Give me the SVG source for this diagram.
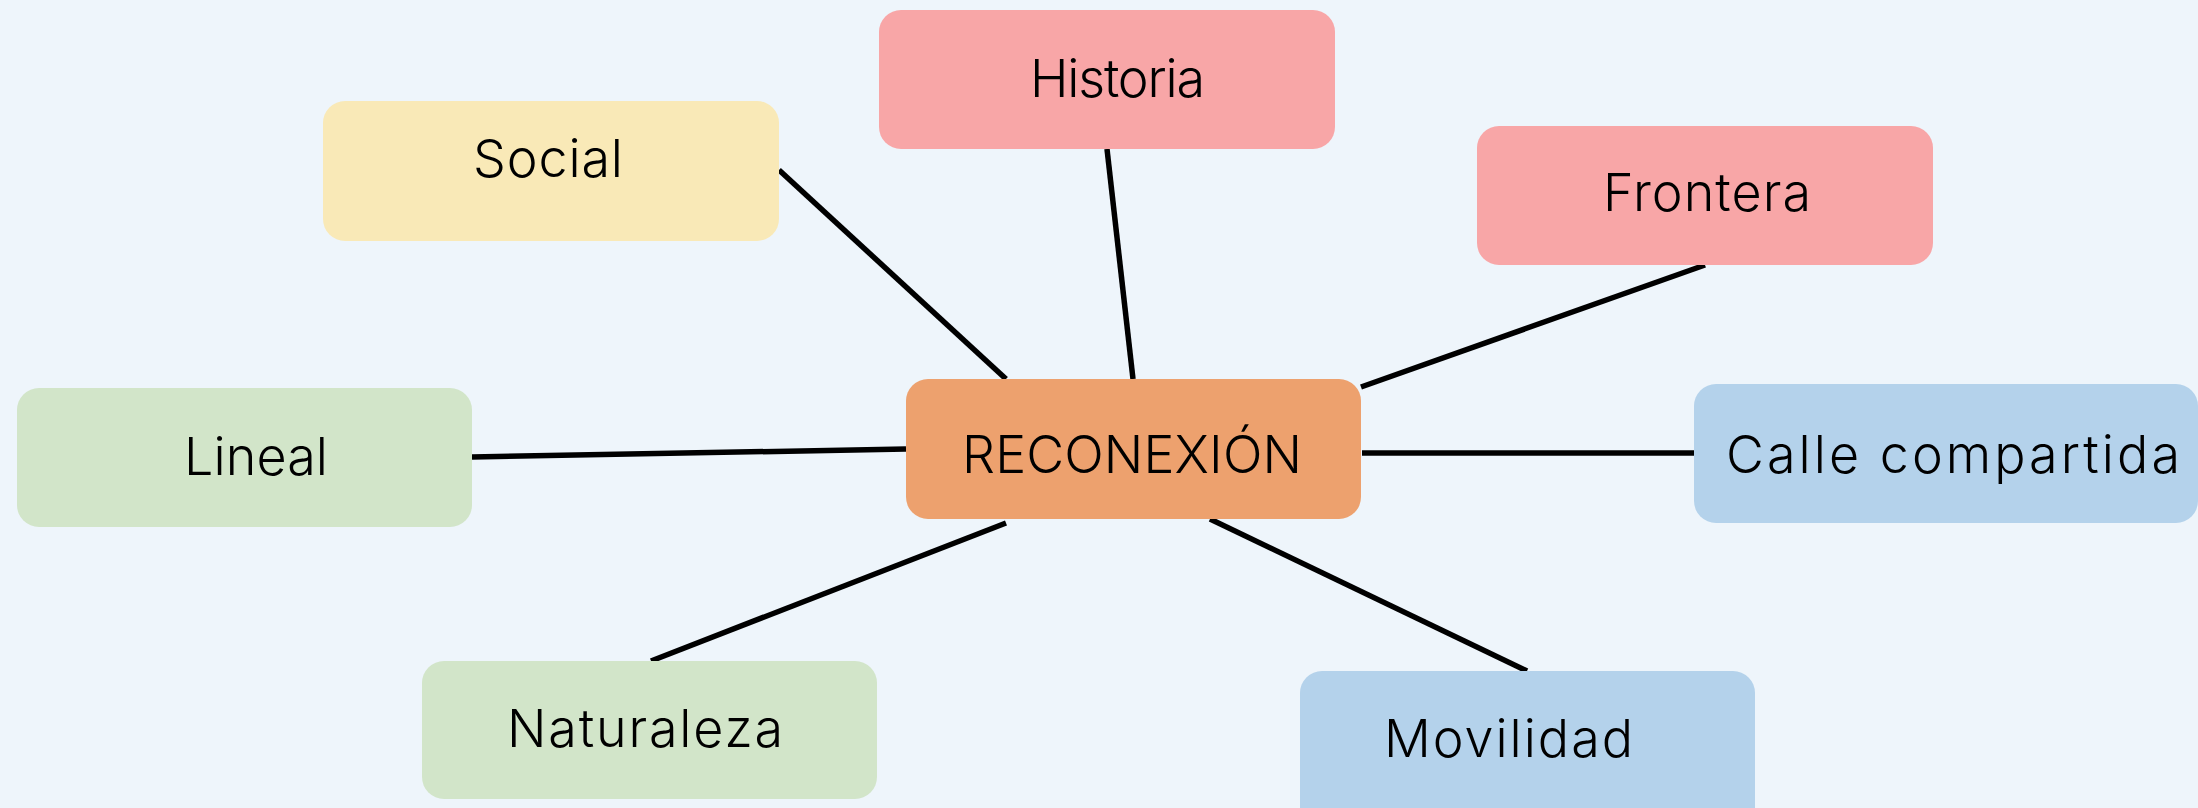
<svg xmlns="http://www.w3.org/2000/svg" width="2198" height="808" viewBox="0 0 2198 808">
<style>
.lbl{font-family:"Inter","Liberation Sans",Arial,sans-serif;font-weight:300;font-size:52px;fill:#000;}
.pink{fill:#F8A6A7;}
.yellow{fill:#F9E9B7;}
.green{fill:#D2E5C9;}
.orange{fill:#EDA16E;}
.blue{fill:#B4D2EB;}
.conn line{stroke:#000;stroke-width:5.5;}
</style>
<rect x="0" y="0" width="2198" height="808" fill="#EEF5FB"/>
<g id="connectors" class="conn">
<line x1="779" y1="170" x2="1006" y2="379"/>
<line x1="1107" y1="149" x2="1133" y2="379"/>
<line x1="1705" y1="265" x2="1361" y2="387"/>
<line x1="472" y1="457" x2="906" y2="449"/>
<line x1="1362" y1="453" x2="1703" y2="453"/>
<line x1="1006" y1="523" x2="651" y2="661"/>
<line x1="1210" y1="519" x2="1527" y2="671"/>
</g>
<g id="node-historia">
<rect class="pink" x="879" y="10" width="456" height="139" rx="22"/>
<text class="lbl" x="1030" y="97" textLength="175" lengthAdjust="spacing">Historia</text>
</g>
<g id="node-social">
<rect class="yellow" x="323" y="101" width="456" height="140" rx="22"/>
<text class="lbl" x="473" y="177" textLength="150" lengthAdjust="spacing">Social</text>
</g>
<g id="node-frontera">
<rect class="pink" x="1477" y="126" width="456" height="139" rx="22"/>
<text class="lbl" x="1603" y="211" textLength="208" lengthAdjust="spacing">Frontera</text>
</g>
<g id="node-lineal">
<rect class="green" x="17" y="388" width="455" height="139" rx="22"/>
<text class="lbl" x="184" y="475" textLength="144" lengthAdjust="spacing">Lineal</text>
</g>
<g id="node-reconexion">
<rect class="orange" x="906" y="379" width="455" height="140" rx="22"/>
<text class="lbl" x="962" y="473" textLength="340" lengthAdjust="spacing">RECONEXIÓN</text>
</g>
<g id="node-calle">
<rect class="blue" x="1694" y="384" width="504" height="139" rx="22"/>
<text class="lbl" x="1726" y="473" textLength="454" lengthAdjust="spacing">Calle compartida</text>
</g>
<g id="node-naturaleza">
<rect class="green" x="422" y="661" width="455" height="138" rx="22"/>
<text class="lbl" x="507" y="747" textLength="276" lengthAdjust="spacing">Naturaleza</text>
</g>
<g id="node-movilidad">
<rect class="blue" x="1300" y="671" width="455" height="160" rx="22"/>
<text class="lbl" x="1384" y="757" textLength="249" lengthAdjust="spacing">Movilidad</text>
</g>
</svg>
